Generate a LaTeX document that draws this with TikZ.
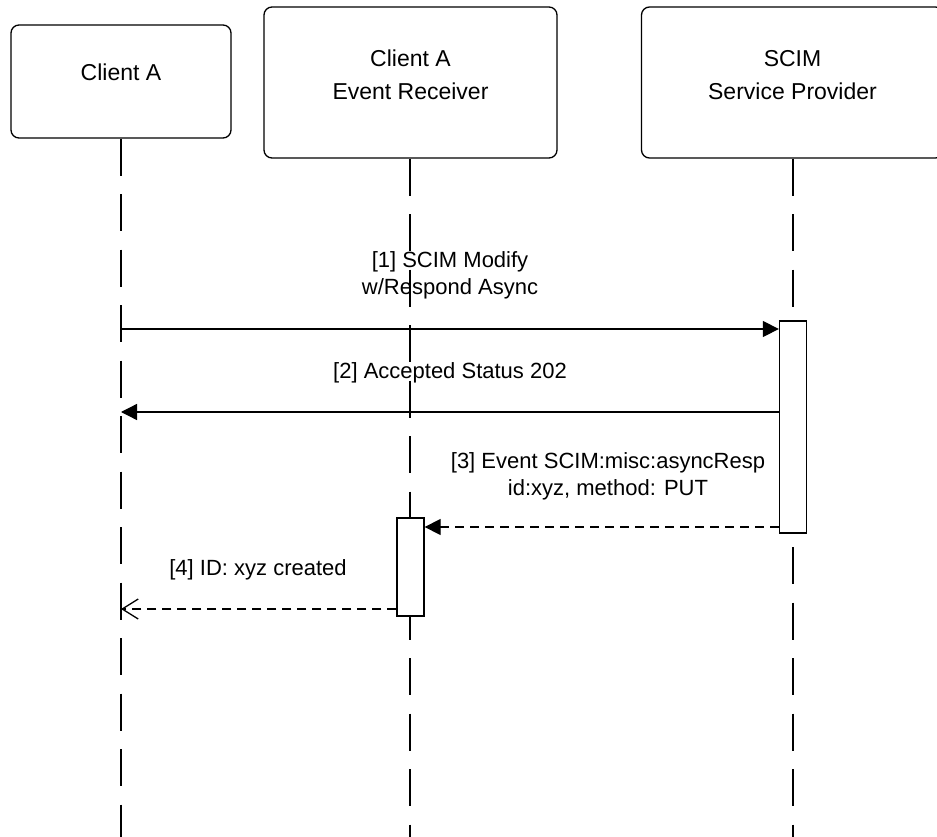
\documentclass[tikz,border=0pt]{standalone}
\usepackage{fontspec}
\setmainfont{Liberation Sans}
\usetikzlibrary{arrows.meta}
\begin{document}
\begin{tikzpicture}[x=1pt,y=-1pt,
  headbox/.style={draw, line width=1.3pt, rounded corners=8pt, fill=white, inner sep=0pt},
  lifeline/.style={line width=1.3pt, dash pattern=on 37pt off 18.5pt},
  actbox/.style={draw, line width=1.3pt, fill=white, inner sep=0pt, minimum width=27pt},
  msg/.style={line width=1.3pt, -{Triangle[length=16pt,width=16pt]}},
  retmsg/.style={msg, dash pattern=on 9pt off 6pt},
  retopen/.style={line width=1.3pt, dash pattern=on 9pt off 6pt, -{Straight Barb[length=16pt,width=20pt]}},
  msglbl/.style={font=\fontsize{22}{27}\selectfont, align=center, inner sep=0pt},
  headlbl/.style={font=\fontsize{23}{33}\selectfont, align=center, inner sep=0pt}]
\useasboundingbox (0,0) rectangle (937,837);
\clip (0,0) rectangle (937,837);

% lifeline ends
\coordinate (endA) at (121,837);
\coordinate (endR) at (410,837);
\coordinate (endS) at (793,837);

% header boxes
\node[headbox, minimum width=220pt, minimum height=113pt] (boxA) at (121,81.5) {};
\node[headbox, minimum width=293pt, minimum height=151pt] (boxR) at (410.5,82.5) {};
\node[headbox, minimum width=302pt, minimum height=151pt] (boxS) at (792.5,82.5) {};
\node[headlbl] (txtA) at (121,72) {Client A};
\node[headlbl] (txtR) at (410.5,75) {Client A\\Event Receiver};
\node[headlbl] (txtS) at (792.5,75) {SCIM\\Service Provider};

% lifelines
\draw[lifeline] (boxA.south -| endA) -- (endA);
\draw[lifeline] (boxR.south -| endR) -- (endR);
\draw[lifeline] (boxS.south -| endS) -- (endS);

% activations
\node[actbox, minimum height=212pt] (actS) at (793,427) {};
\node[actbox, minimum height=98pt] (actR) at (410.5,567) {};

% message anchors
\coordinate (m1) at (121,329);
\coordinate (m2) at (121,412);
\coordinate (m3) at (410,527);
\coordinate (m4) at (121,609);

% messages
\draw[msg] (m1) -- (actS.west |- m1);
\draw[msg] (actS.west |- m2) -- (m2);
\draw[retmsg] (actS.west |- m3) -- (actR.east |- m3);
\draw[retopen] (actR.west |- m4) -- (m4);

% labels
\node[msglbl] (l1) at (450,275.5) {[1] SCIM Modify\\w/Respond Async};
\node[msglbl] (l2) at (450,373) {[2] Accepted Status 202};
\node[msglbl] (l3) at (608,476) {[3] Event SCIM:misc:asyncResp\\id:xyz, method: PUT};
\node[msglbl] (l4) at (258,570) {[4] ID: xyz created};
\end{tikzpicture}
\end{document}
